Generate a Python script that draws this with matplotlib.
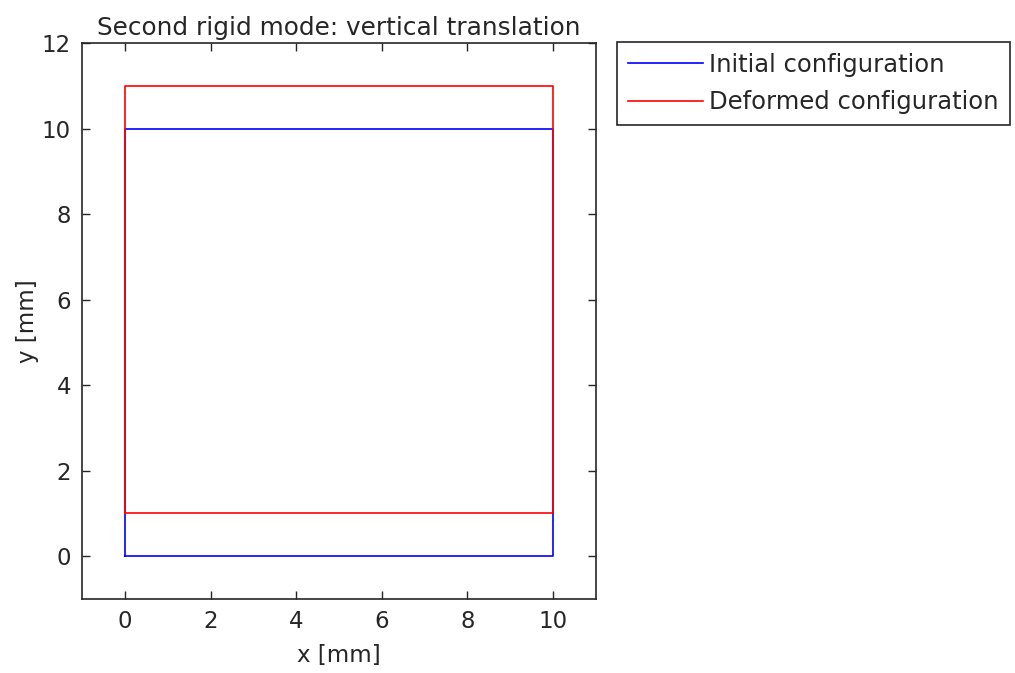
import matplotlib.pyplot as plt

# square corners (closed polygon), mm
x_init = [0, 10, 10, 0, 0]
y_init = [0, 0, 10, 10, 0]
x_def = [0, 10, 10, 0, 0]
y_def = [1, 1, 11, 11, 1]

labels = ['Initial configuration', 'Deformed configuration']
xticks = [0, 2, 4, 6, 8, 10]
yticks = [0, 2, 4, 6, 8, 10, 12]

fs = 16.5
plt.rcParams['font.family'] = ['DejaVu Sans']
plt.rcParams['font.size'] = fs

fig = plt.figure(figsize=(10.15, 6.73), dpi=100)
ax = fig.add_axes([82/1015, 1 - 599/673, (596 - 82)/1015, (599 - 43)/673])

ax.plot(x_init, y_init, color='#0000ff', lw=1.2, label=labels[0])
ax.plot(x_def, y_def, color='#ff0000', lw=1.2, label=labels[1])

ax.set_xlim(-1, 11)
ax.set_ylim(-1, 12)
ax.set_xticks(xticks)
ax.set_yticks(yticks)
ax.tick_params(direction='in', top=True, right=True, length=6, width=1,
               labelsize=fs, pad=8, colors='#262626', labelcolor='#262626')
for s in ax.spines.values():
    s.set_linewidth(1.2)
    s.set_color('#262626')

ax.set_xlabel('x [mm]', fontsize=fs, labelpad=8, color='#262626')
ax.set_ylabel('y [mm]', fontsize=fs, labelpad=2, color='#262626')
ax.set_title('Second rigid mode: vertical translation', fontsize=17.8, pad=6, color='#262626')

leg = ax.legend(loc='upper left', bbox_to_anchor=(617/1015, 1 - 42/673),
                bbox_transform=fig.transFigure, fancybox=False, framealpha=1,
                edgecolor='#262626', fontsize=17.5, handlelength=3.1, handletextpad=0.25,
                borderaxespad=0, labelspacing=0.55, borderpad=0.45)
leg.get_frame().set_linewidth(1.2)
for t in leg.get_texts():
    t.set_color('#262626')

fig.savefig('out.png', dpi=100)
